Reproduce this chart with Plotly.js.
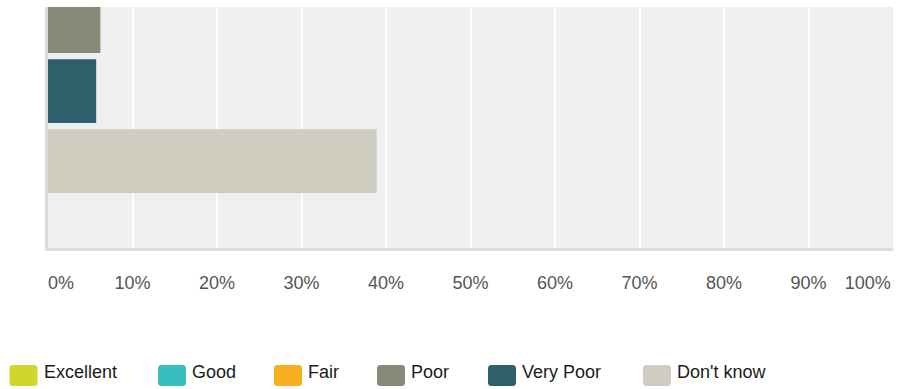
<!DOCTYPE html>
<html>
<head>
<meta charset="utf-8">
<script src="https://cdn.plot.ly/plotly-3.0.1.min.js"></script>
<style>
  html, body { margin: 0; padding: 0; background: #ffffff; }
  #chart { width: 898px; height: 389px; }
</style>
</head>
<body>
<div id="chart"></div>
<script>
// ---- Data ----
const categories = ["Excellent", "Good", "Fair", "Poor", "Very Poor", "Don't know"];
// Excellent, Good and Fair bars lie above the visible (cropped) part of the chart and cannot be read
const values = [null, null, null, 6.2, 5.7, 38.9];
const colors = ["#d1d62e", "#37bfc0", "#f5ae20", "#878875", "#2f5f6b", "#cfcdbf"];
const gridTicks = [10, 20, 30, 40, 50, 60, 70, 80, 90];
const labelTickVals = [1.55, 10, 20, 30, 40, 50, 60, 70, 80, 90, 97.0];
const labelTickText = ["0%", "10%", "20%", "30%", "40%", "50%", "60%", "70%", "80%", "90%", "100%"];
const question = ["Q"];

// ---- Layout geometry ----
const W = 898, H = 389;
const M = { l: 48, r: 5, t: 7, b: 141 };
const PW = W - M.l - M.r, PH = H - M.t - M.b;
const px2x = (px) => (px - M.l) / PW;
const px2y = (py) => (H - M.b - py) / PH;

const FONT = "Liberation Sans, Arial, sans-serif";

const traces = categories.map((c, i) => ({
  type: "bar",
  orientation: "h",
  name: c,
  y: question,
  x: [values[i]],
  marker: { color: colors[i], line: { width: 0 } },
  showlegend: false,
  hoverinfo: "x+name"
}));

// Custom legend (rounded swatches + text)
const legendSwatchX = [9.5, 158, 274, 377, 488, 643];
const swW = 28, swTop = 365, swBot = 386, rad = 3.5;
function roundRectPath(x0p, y0p, x1p, y1p) {
  const x0 = px2x(x0p), x1 = px2x(x1p);
  const yT = px2y(y0p), yB = px2y(y1p);
  const rx = rad / PW, ry = rad / PH;
  return `M${x0 + rx},${yT} L${x1 - rx},${yT} Q${x1},${yT} ${x1},${yT - ry} ` +
         `L${x1},${yB + ry} Q${x1},${yB} ${x1 - rx},${yB} L${x0 + rx},${yB} ` +
         `Q${x0},${yB} ${x0},${yB + ry} L${x0},${yT - ry} Q${x0},${yT} ${x0 + rx},${yT} Z`;
}
const shapes = categories.map((c, i) => ({
  type: "path",
  xref: "paper", yref: "paper",
  path: roundRectPath(legendSwatchX[i], swTop, legendSwatchX[i] + swW, swBot),
  fillcolor: colors[i],
  line: { width: 0 },
  layer: "above"
}));
const annotations = categories.map((c, i) => ({
  xref: "paper", yref: "paper",
  x: px2x(legendSwatchX[i] + swW + 4),
  y: px2y(371.5),
  xanchor: "left", yanchor: "middle",
  text: c,
  showarrow: false,
  font: { family: FONT, size: 18, color: "#1a1a1a" }
}));

// Bar group geometry: reversed category axis so first series is on top
const layout = {
  width: W, height: H,
  margin: M,
  paper_bgcolor: "#ffffff",
  plot_bgcolor: "#efefef",
  barmode: "group",
  bargap: 0.2,
  bargroupgap: 0.09,
  showlegend: false,
  font: { family: FONT, size: 18, color: "#555555" },
  xaxis: {
    range: [0, 100],
    tickvals: gridTicks,
    showticklabels: false,
    ticks: "",
    showgrid: true,
    gridcolor: "#ffffff",
    gridwidth: 2,
    zeroline: false,
    showline: true,
    linecolor: "#dedede",
    linewidth: 3,
    fixedrange: true
  },
  xaxis2: {
    overlaying: "x",
    anchor: "y",
    side: "bottom",
    range: [0, 100],
    tickvals: labelTickVals,
    ticktext: labelTickText,
    ticks: "outside",
    ticklen: 18,
    tickcolor: "rgba(0,0,0,0)",
    showgrid: false,
    zeroline: false,
    showline: false,
    tickfont: { family: FONT, size: 18, color: "#555555" },
    fixedrange: true
  },
  yaxis: {
    type: "category",
    range: [0.4987, 0.0396],
    showticklabels: false,
    ticks: "",
    showgrid: false,
    zeroline: false,
    showline: true,
    linecolor: "#d9d9d9",
    linewidth: 3,
    fixedrange: true
  },
  shapes: shapes,
  annotations: annotations
};

// invisible helper trace on xaxis2 so the label axis is drawn
traces.push({
  type: "scatter", x: [0], y: question, xaxis: "x2", yaxis: "y",
  mode: "markers", marker: { opacity: 0 }, showlegend: false, hoverinfo: "skip"
});

Plotly.newPlot("chart", traces, layout, { displayModeBar: false, staticPlot: true });
</script>
</body>
</html>
